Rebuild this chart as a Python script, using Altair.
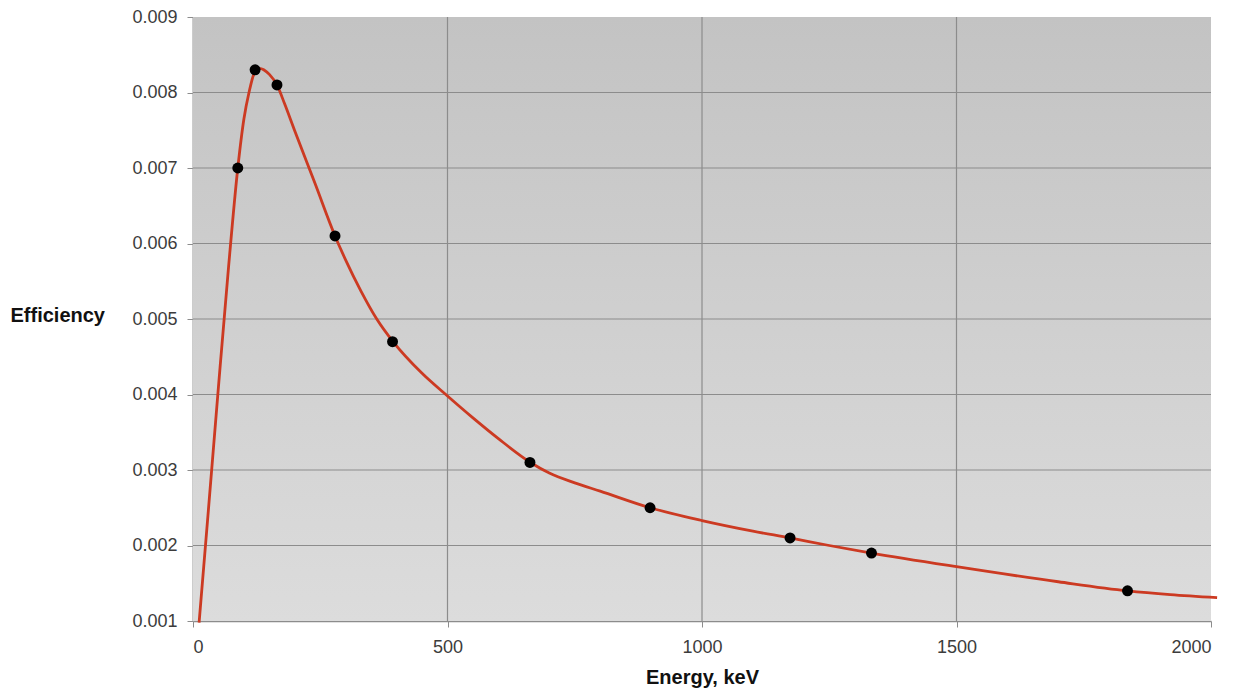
import altair as alt
import pandas as pd

# Fitted efficiency curve
curve_energy = [12, 30, 50, 70, 88, 100, 110, 120, 130, 150, 165, 180, 200, 240, 279, 300,
                330, 361, 393, 450, 500, 550, 600, 663, 700, 750, 800, 898, 1000, 1100,
                1173, 1250, 1333, 1500, 1700, 1836, 1920, 2012]
curve_eff = [0.00098, 0.00245, 0.0041, 0.0057, 0.0070, 0.00765, 0.0080, 0.00825, 0.00832,
             0.00824, 0.0081, 0.00785, 0.00749, 0.00679, 0.0061, 0.00578, 0.00537, 0.0050,
             0.0047, 0.00428, 0.00398, 0.00369, 0.003415, 0.0031, 0.00296, 0.00283,
             0.00272, 0.0025, 0.00233, 0.00219, 0.0021, 0.0020, 0.0019, 0.00172, 0.00152,
             0.0014, 0.00135, 0.00131]

# Measured points
point_energy = [88, 122, 165, 279, 392, 662, 898, 1173, 1333, 1836]
point_eff = [0.0070, 0.0083, 0.0081, 0.0061, 0.0047, 0.0031, 0.0025, 0.0021, 0.0019, 0.0014]

x_ticks = [0, 500, 1000, 1500, 2000]
x_grid = [500, 1000, 1500]
y_ticks = [0.001, 0.002, 0.003, 0.004, 0.005, 0.006, 0.007, 0.008, 0.009]
y_grid = [0.002, 0.003, 0.004, 0.005, 0.006, 0.007, 0.008]

W, H = 1018, 604
FONT = "Liberation Sans"

curve_df = pd.DataFrame({"energy": curve_energy, "eff": curve_eff})
pts_df = pd.DataFrame({"energy": point_energy, "eff": point_eff})
xg_df = pd.DataFrame({"energy": x_grid})
yg_df = pd.DataFrame({"eff": y_grid})

xscale = alt.Scale(domain=[0, 2000], nice=False, zero=False)
yscale = alt.Scale(domain=[0.001, 0.009], nice=False, zero=False)

bg = alt.Chart(pd.DataFrame({"a": [0]})).mark_rect(
    color=alt.Gradient(
        gradient="linear",
        stops=[alt.GradientStop(color="#c3c3c3", offset=0),
               alt.GradientStop(color="#dcdcdc", offset=1)],
        x1=0, x2=0, y1=0, y2=1,
    )
).encode(x=alt.value(0), x2=alt.value(W), y=alt.value(0), y2=alt.value(H))

vgrid = alt.Chart(xg_df).mark_rule(color="#8c8c8c", strokeWidth=1.2).encode(
    x=alt.X("energy:Q", scale=xscale)
)
hgrid = alt.Chart(yg_df).mark_rule(color="#8c8c8c", strokeWidth=1.2).encode(
    y=alt.Y("eff:Q", scale=yscale)
)

line = alt.Chart(curve_df).mark_line(
    color="#cc3a22", strokeWidth=2.8, interpolate="monotone", clip=False
).encode(
    x=alt.X("energy:Q", scale=xscale,
            axis=alt.Axis(values=x_ticks, format="d", grid=False, title="Energy, keV",
                          domainColor="#8c8c8c", domainWidth=1.5,
                          tickColor="#8c8c8c", tickSize=6, labelPadding=11,
                          labelFont=FONT, labelFontSize=18, labelColor="#3c3c3c",
                          titleFont=FONT, titleFontSize=20, titleFontWeight="bold",
                          titleColor="#111111", titleY=56, titleBaseline="middle")),
    y=alt.Y("eff:Q", scale=yscale,
            axis=alt.Axis(values=y_ticks, format=".3f", grid=False, title="Efficiency",
                          domainColor="#9a9a9a", domainWidth=2,
                          tickColor="#8c8c8c", tickSize=6, labelPadding=10,
                          labelFont=FONT, labelFontSize=18, labelColor="#3c3c3c",
                          titleFont=FONT, titleFontSize=20, titleFontWeight="bold",
                          titleColor="#111111", titleAngle=0, titleAlign="left",
                          titleBaseline="middle", titleX=-183, titleY=298)),
)

points = alt.Chart(pts_df).mark_circle(color="#000000", opacity=1, size=120).encode(
    x=alt.X("energy:Q", scale=xscale),
    y=alt.Y("eff:Q", scale=yscale),
)

chart = alt.layer(bg, vgrid, hgrid, line, points).properties(
    width=W, height=H,
    autosize=alt.AutoSizeParams(type="none"),
    padding={"left": 185, "top": 9, "right": 30, "bottom": 72},
).configure_view(stroke=None)

chart.save("out.html", embed_options={"renderer": "svg", "actions": False})
